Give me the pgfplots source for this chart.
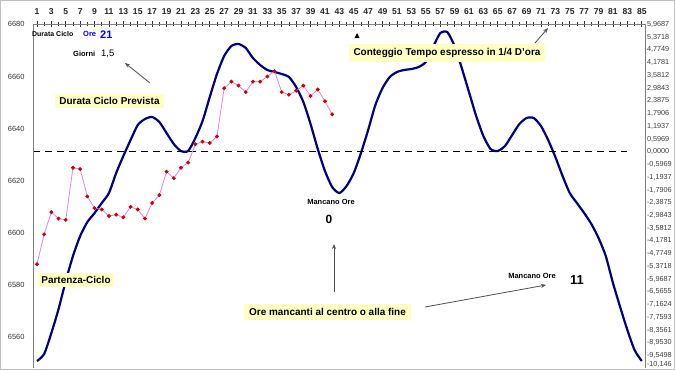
\documentclass[border=0pt]{standalone}
\usepackage{pgfplots}
\pgfplotsset{compat=1.18}
\usepackage{fontspec}
\setmainfont{Liberation Sans}
\usetikzlibrary{arrows.meta}
\definecolor{navy}{HTML}{000080}
\definecolor{pinkl}{HTML}{E880E8}
\definecolor{mred}{HTML}{CC0000}
\definecolor{boxy}{HTML}{FFFFC4}
\definecolor{axg}{HTML}{808080}
\definecolor{arrg}{HTML}{505050}

\pgfplotstableread{
x v
1 -9.806
2 -9.478
3 -8.494
4 -7.370
5 -6.058
6 -4.887
7 -3.950
8 -3.294
9 -2.872
10 -2.403
11 -1.935
12 -0.998
13 -0.201
14 0.548
15 1.251
16 1.532
17 1.626
18 1.391
19 0.876
20 0.361
21 0.033
22 0.033
23 0.642
24 1.438
25 2.563
26 3.640
27 4.484
28 4.952
29 5.046
30 4.858
31 4.390
32 4.062
33 3.828
34 3.734
35 3.640
36 3.500
37 3.031
38 2.328
39 1.298
40 0.126
41 -0.904
42 -1.654
43 -1.935
44 -1.607
45 -0.998
46 -0.061
47 1.017
48 2.188
49 2.984
50 3.500
51 3.734
52 3.828
53 3.874
54 3.968
55 4.202
56 4.900
57 5.550
58 5.600
59 4.950
60 3.921
61 2.797
62 1.673
63 0.736
64 0.126
65 0.033
66 0.267
67 0.782
68 1.298
69 1.579
70 1.579
71 1.204
72 0.548
73 -0.248
74 -1.138
75 -1.935
76 -2.408
77 -2.872
78 -3.387
79 -4.043
80 -4.887
81 -6.151
82 -7.276
83 -8.354
84 -9.290
85 -9.806
}\bluedata

\pgfplotstableread{
x y
1 6588
2 6599.5
3 6608
4 6605.5
5 6605
6 6625
7 6624.5
8 6614
9 6609.5
10 6609
11 6606.5
12 6607
13 6606
14 6610
15 6609
16 6605.5
17 6611.5
18 6614.5
19 6623.5
20 6621
21 6625
22 6627
23 6634
24 6635
25 6634.5
26 6637
27 6655.5
28 6658
29 6656.5
30 6654
31 6658
32 6658
33 6660
34 6662
35 6654
36 6653
37 6654.5
38 6656.5
39 6652.5
40 6655
41 6650.5
42 6645.5
}\pinkdata

\begin{document}
\begin{tikzpicture}[x=1bp,y=1bp]
\useasboundingbox (0,0) rectangle (675,370);
\fill[white] (0,0) rectangle (675,370);
\draw[gray!50] (0.5,0.5) rectangle (674.5,369.5);

\pgfplotsset{myax/.style={at={(33bp,1.7bp)}, anchor=south west, scale only axis,
  width=612bp, height=344bp, xmin=0.45, xmax=85.45, clip=false,
  axis line style={axg, line width=1bp}}}

% right axis: blue curve and dashed zero line
\begin{axis}[myax, axis y line*=right, axis x line=none,
  ymin=-10.1468, ymax=5.9687,
  ytick={5.9687,5.3718,4.7749,4.1781,3.5812,2.9843,2.3875,1.7906,1.1937,0.5969,0,-0.5969,-1.1937,-1.7906,-2.3875,-2.9843,-3.5812,-4.1781,-4.7749,-5.3718,-5.9687,-6.5655,-7.1624,-7.7593,-8.3561,-8.9530,-9.5498},
  yticklabels={{5,9687},{5,3718},{4,7749},{4,1781},{3,5812},{2,9843},{2,3875},{1,7906},{1,1937},{0,5969},{0,0000},{-0,5969},{-1,1937},{-1,7906},{-2,3875},{-2,9843},{-3,5812},{-4,1781},{-4,7749},{-5,3718},{-5,9687},{-6,5655},{-7,1624},{-7,7593},{-8,3561},{-8,9530},{-9,5498}},
  extra y ticks={-10.1468},
  extra y tick labels={-10{,}146},
  extra y tick style={yticklabel style={yshift=3.5bp}},
  major tick length=0pt,
  yticklabel style={font=\fontsize{7.3}{8}\selectfont, text=black!75, xshift=-1.5bp},
]
\addplot[navy, line width=2.2bp, smooth, tension=0.4] table[x=x,y=v] {\bluedata};
\addplot[black, line width=1.2bp, dash pattern=on 7bp off 5bp] coordinates {(0.45,0) (83,0)};
\end{axis}

% left axis + top axis: pink series
\begin{axis}[myax, axis x line*=top, axis y line*=left,
  ymin=6548.1, ymax=6680,
  ytick={6560,6580,6600,6620,6640,6660,6680},
  xtick={1,3,...,85}, minor x tick num=1,
  tick align=center,
  major tick length=6bp, minor tick length=4bp,
  /pgf/number format/assume math mode=true,
  /pgf/number format/1000 sep={},
  xtick style={black!80, line width=0.6bp},
  ytick style={draw=none},
  xticklabel style={font=\bfseries\fontsize{8.6}{9}\selectfont, text=black!85, yshift=3.5bp},
  yticklabel style={font=\fontsize{7.5}{8}\selectfont, text=black!80, xshift=-2bp},
]
\addplot[pinkl, line width=0.8bp, mark=*, mark size=1.5bp,
  mark options={draw=mred, fill=mred}] table[x=x,y=y] {\pinkdata};
\end{axis}

% annotations
\begin{scope}[font=\bfseries]
\node[anchor=west, inner sep=0, font=\bfseries\fontsize{7}{8}\selectfont] at (32,336) {Durata Ciclo};
\node[anchor=west, inner sep=0, text=blue, font=\bfseries\fontsize{7.5}{8}\selectfont] at (83,336) {Ore};
\node[anchor=west, inner sep=0, text=blue, font=\bfseries\fontsize{11}{12}\selectfont] at (100,335) {21};
\node[anchor=west, inner sep=0, font=\bfseries\fontsize{7.5}{8}\selectfont] at (73,316) {Giorni};
\node[anchor=west, inner sep=0, font=\fontsize{9.5}{10}\selectfont] at (101,316) {1,5};
\draw[arrg, line width=0.8bp, -{Stealth[length=5bp,width=4bp]}] (150,287) -- (125,307);

\node[fill=boxy, inner xsep=4bp, inner ysep=3.5bp, font=\bfseries\fontsize{10}{11}\selectfont] at (109.5,269) {Durata Ciclo Prevista};
\node[fill=boxy, inner xsep=3.5bp, inner ysep=3.5bp, font=\bfseries\fontsize{10}{11}\selectfont] at (76,90) {Partenza-Ciclo};

\node[font=\bfseries\fontsize{7.5}{8}\selectfont] at (331,168) {Mancano Ore};
\node[font=\bfseries\fontsize{12}{13}\selectfont] at (329,151) {0};
\draw[arrg, line width=0.8bp, -{Stealth[length=5bp,width=4bp]}] (334,78) -- (334,126);
\node[fill=boxy, inner xsep=5bp, inner ysep=4bp, font=\bfseries\fontsize{10}{11}\selectfont] at (327.5,58) {Ore mancanti al centro o alla fine};
\draw[arrg, line width=0.8bp, -{Stealth[length=5bp,width=4bp]}] (425,63) -- (546,85);

\node[font=\bfseries\fontsize{7.5}{8}\selectfont] at (532,94) {Mancano Ore};
\node[font=\bfseries\fontsize{13}{14}\selectfont] at (577,90) {11};

\node[fill=boxy, inner xsep=4.5bp, inner ysep=4bp, font=\bfseries\fontsize{10}{11}\selectfont] at (447,317) {Conteggio Tempo espresso in 1/4 D'ora};
\draw[arrg, line width=0.8bp, -{Stealth[length=5bp,width=4bp]}] (535,327) -- (548,342);
\fill[black] (354.5,332) -- (359.5,332) -- (357,337) -- cycle;
\end{scope}
\end{tikzpicture}
\end{document}
